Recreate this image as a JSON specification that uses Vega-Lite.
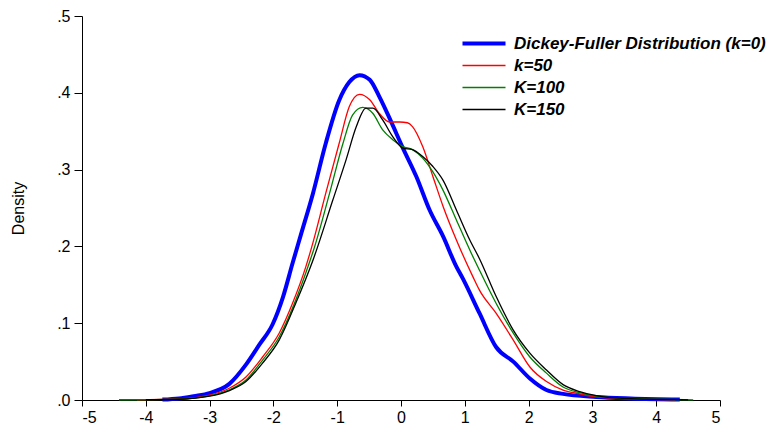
{
  "$schema": "https://vega.github.io/schema/vega-lite/v6.json",
  "width": 638,
  "height": 384,
  "autosize": {"type": "none"},
  "padding": {"left": 82, "top": 16, "right": 48, "bottom": 32},
  "background": "white",
  "config": {
    "view": {"stroke": null},
    "font": "Liberation Sans",
    "axis": {"grid": false, "domainColor": "black", "tickColor": "black", "labelColor": "black", "titleColor": "black", "labelFontSize": 16, "titleFontSize": 16, "titleFontWeight": "normal", "domainWidth": 1, "tickWidth": 1}
  },
  "data": {"values": [
    {"s":"Dickey-Fuller Distribution (k=0)","x":-3.74,"d":0.0005},
    {"s":"Dickey-Fuller Distribution (k=0)","x":-3.48,"d":0.002},
    {"s":"Dickey-Fuller Distribution (k=0)","x":-3.25,"d":0.005},
    {"s":"Dickey-Fuller Distribution (k=0)","x":-3.0,"d":0.009},
    {"s":"Dickey-Fuller Distribution (k=0)","x":-2.69,"d":0.021},
    {"s":"Dickey-Fuller Distribution (k=0)","x":-2.43,"d":0.046},
    {"s":"Dickey-Fuller Distribution (k=0)","x":-2.22,"d":0.072},
    {"s":"Dickey-Fuller Distribution (k=0)","x":-2.01,"d":0.099},
    {"s":"Dickey-Fuller Distribution (k=0)","x":-1.85,"d":0.134},
    {"s":"Dickey-Fuller Distribution (k=0)","x":-1.70,"d":0.178},
    {"s":"Dickey-Fuller Distribution (k=0)","x":-1.57,"d":0.215},
    {"s":"Dickey-Fuller Distribution (k=0)","x":-1.38,"d":0.269},
    {"s":"Dickey-Fuller Distribution (k=0)","x":-1.18,"d":0.334},
    {"s":"Dickey-Fuller Distribution (k=0)","x":-0.97,"d":0.39},
    {"s":"Dickey-Fuller Distribution (k=0)","x":-0.81,"d":0.414},
    {"s":"Dickey-Fuller Distribution (k=0)","x":-0.65,"d":0.423},
    {"s":"Dickey-Fuller Distribution (k=0)","x":-0.49,"d":0.417},
    {"s":"Dickey-Fuller Distribution (k=0)","x":-0.34,"d":0.395},
    {"s":"Dickey-Fuller Distribution (k=0)","x":-0.18,"d":0.367},
    {"s":"Dickey-Fuller Distribution (k=0)","x":0.03,"d":0.328},
    {"s":"Dickey-Fuller Distribution (k=0)","x":0.24,"d":0.291},
    {"s":"Dickey-Fuller Distribution (k=0)","x":0.45,"d":0.247},
    {"s":"Dickey-Fuller Distribution (k=0)","x":0.66,"d":0.213},
    {"s":"Dickey-Fuller Distribution (k=0)","x":0.86,"d":0.175},
    {"s":"Dickey-Fuller Distribution (k=0)","x":0.97,"d":0.158},
    {"s":"Dickey-Fuller Distribution (k=0)","x":1.23,"d":0.113},
    {"s":"Dickey-Fuller Distribution (k=0)","x":1.49,"d":0.069},
    {"s":"Dickey-Fuller Distribution (k=0)","x":1.76,"d":0.05},
    {"s":"Dickey-Fuller Distribution (k=0)","x":2.02,"d":0.028},
    {"s":"Dickey-Fuller Distribution (k=0)","x":2.28,"d":0.013},
    {"s":"Dickey-Fuller Distribution (k=0)","x":2.54,"d":0.008},
    {"s":"Dickey-Fuller Distribution (k=0)","x":3.06,"d":0.004},
    {"s":"Dickey-Fuller Distribution (k=0)","x":3.6,"d":0.002},
    {"s":"Dickey-Fuller Distribution (k=0)","x":4.37,"d":0.0005},
    {"s":"k=50","x":-4.14,"d":0.0003},
    {"s":"k=50","x":-3.5,"d":0.0015},
    {"s":"k=50","x":-3.0,"d":0.0065},
    {"s":"k=50","x":-2.7,"d":0.015},
    {"s":"k=50","x":-2.43,"d":0.030},
    {"s":"k=50","x":-2.17,"d":0.056},
    {"s":"k=50","x":-1.91,"d":0.087},
    {"s":"k=50","x":-1.70,"d":0.126},
    {"s":"k=50","x":-1.49,"d":0.174},
    {"s":"k=50","x":-1.38,"d":0.205},
    {"s":"k=50","x":-1.18,"d":0.269},
    {"s":"k=50","x":-0.97,"d":0.334},
    {"s":"k=50","x":-0.81,"d":0.382},
    {"s":"k=50","x":-0.65,"d":0.398},
    {"s":"k=50","x":-0.49,"d":0.391},
    {"s":"k=50","x":-0.34,"d":0.373},
    {"s":"k=50","x":-0.18,"d":0.362},
    {"s":"k=50","x":-0.02,"d":0.362},
    {"s":"k=50","x":0.10,"d":0.361},
    {"s":"k=50","x":0.18,"d":0.356},
    {"s":"k=50","x":0.34,"d":0.33},
    {"s":"k=50","x":0.5,"d":0.291},
    {"s":"k=50","x":0.66,"d":0.252},
    {"s":"k=50","x":0.87,"d":0.208},
    {"s":"k=50","x":1.13,"d":0.16},
    {"s":"k=50","x":1.23,"d":0.143},
    {"s":"k=50","x":1.49,"d":0.113},
    {"s":"k=50","x":1.76,"d":0.078},
    {"s":"k=50","x":2.02,"d":0.043},
    {"s":"k=50","x":2.28,"d":0.024},
    {"s":"k=50","x":2.54,"d":0.013},
    {"s":"k=50","x":2.8,"d":0.008},
    {"s":"k=50","x":3.06,"d":0.004},
    {"s":"k=50","x":3.6,"d":0.0015},
    {"s":"k=50","x":4.3,"d":0.0003},
    {"s":"K=100","x":-4.42,"d":0.0003},
    {"s":"K=100","x":-3.5,"d":0.0012},
    {"s":"K=100","x":-3.0,"d":0.0055},
    {"s":"K=100","x":-2.7,"d":0.013},
    {"s":"K=100","x":-2.43,"d":0.026},
    {"s":"K=100","x":-2.17,"d":0.052},
    {"s":"K=100","x":-1.91,"d":0.082},
    {"s":"K=100","x":-1.67,"d":0.126},
    {"s":"K=100","x":-1.44,"d":0.178},
    {"s":"K=100","x":-1.36,"d":0.198},
    {"s":"K=100","x":-1.12,"d":0.269},
    {"s":"K=100","x":-0.91,"d":0.334},
    {"s":"K=100","x":-0.76,"d":0.371},
    {"s":"K=100","x":-0.60,"d":0.381},
    {"s":"K=100","x":-0.44,"d":0.373},
    {"s":"K=100","x":-0.29,"d":0.352},
    {"s":"K=100","x":-0.13,"d":0.339},
    {"s":"K=100","x":0.03,"d":0.33},
    {"s":"K=100","x":0.18,"d":0.326},
    {"s":"K=100","x":0.34,"d":0.315},
    {"s":"K=100","x":0.5,"d":0.297},
    {"s":"K=100","x":0.66,"d":0.273},
    {"s":"K=100","x":0.87,"d":0.234},
    {"s":"K=100","x":1.08,"d":0.195},
    {"s":"K=100","x":1.23,"d":0.169},
    {"s":"K=100","x":1.49,"d":0.126},
    {"s":"K=100","x":1.76,"d":0.087},
    {"s":"K=100","x":2.02,"d":0.056},
    {"s":"K=100","x":2.28,"d":0.035},
    {"s":"K=100","x":2.54,"d":0.017},
    {"s":"K=100","x":2.8,"d":0.0095},
    {"s":"K=100","x":3.06,"d":0.005},
    {"s":"K=100","x":3.32,"d":0.003},
    {"s":"K=100","x":4.0,"d":0.001},
    {"s":"K=100","x":4.58,"d":0.0002},
    {"s":"K=150","x":-4.0,"d":0.0003},
    {"s":"K=150","x":-3.5,"d":0.001},
    {"s":"K=150","x":-3.0,"d":0.005},
    {"s":"K=150","x":-2.7,"d":0.012},
    {"s":"K=150","x":-2.43,"d":0.024},
    {"s":"K=150","x":-2.17,"d":0.048},
    {"s":"K=150","x":-1.91,"d":0.078},
    {"s":"K=150","x":-1.65,"d":0.126},
    {"s":"K=150","x":-1.38,"d":0.182},
    {"s":"K=150","x":-1.07,"d":0.26},
    {"s":"K=150","x":-0.86,"d":0.313},
    {"s":"K=150","x":-0.70,"d":0.356},
    {"s":"K=150","x":-0.55,"d":0.38},
    {"s":"K=150","x":-0.44,"d":0.38},
    {"s":"K=150","x":-0.29,"d":0.365},
    {"s":"K=150","x":-0.13,"d":0.343},
    {"s":"K=150","x":0.03,"d":0.328},
    {"s":"K=150","x":0.18,"d":0.326},
    {"s":"K=150","x":0.34,"d":0.317},
    {"s":"K=150","x":0.5,"d":0.304},
    {"s":"K=150","x":0.66,"d":0.286},
    {"s":"K=150","x":0.87,"d":0.247},
    {"s":"K=150","x":1.08,"d":0.208},
    {"s":"K=150","x":1.23,"d":0.184},
    {"s":"K=150","x":1.49,"d":0.135},
    {"s":"K=150","x":1.76,"d":0.091},
    {"s":"K=150","x":2.02,"d":0.061},
    {"s":"K=150","x":2.28,"d":0.039},
    {"s":"K=150","x":2.54,"d":0.02},
    {"s":"K=150","x":2.8,"d":0.011},
    {"s":"K=150","x":3.06,"d":0.0056},
    {"s":"K=150","x":3.5,"d":0.002},
    {"s":"K=150","x":4.5,"d":0.0002}
  ]},
  "mark": {"type": "line", "interpolate": "monotone"},
  "encoding": {
    "x": {"field": "x", "type": "quantitative", "scale": {"domain": [-5, 5], "nice": false, "zero": false},
      "axis": {"title": null, "values": [-5,-4,-3,-2,-1,0,1,2,3,4,5], "labelExpr": "datum.value + ''", "labelPadding": 3, "tickSize": 6}},
    "y": {"field": "d", "type": "quantitative", "scale": {"domain": [0, 0.5], "nice": false},
      "axis": {"title": "Density", "values": [0,0.1,0.2,0.3,0.4,0.5], "labelExpr": "replace(format(datum.value, '.1f'), '0.', '.')", "titlePadding": 30, "labelPadding": 4, "tickSize": 8}},
    "color": {"field": "s", "type": "nominal",
      "scale": {"domain": ["Dickey-Fuller Distribution (k=0)", "k=50", "K=100", "K=150"], "range": ["#0000FF", "#FF0000", "#008000", "#000000"]},
      "legend": {"title": null, "orient": "none", "legendX": 378, "legendY": 19, "symbolType": "stroke", "symbolSize": 1850, "labelFontSize": 17, "labelFontWeight": "bold", "labelFontStyle": "italic", "labelColor": "black", "labelOffset": 6, "rowPadding": 4, "clipHeight": 17, "labelLimit": 400}},
    "strokeWidth": {"field": "s", "type": "nominal",
      "scale": {"type": "ordinal", "domain": ["Dickey-Fuller Distribution (k=0)", "k=50", "K=100", "K=150"], "range": [4, 1.3, 1.3, 1.3]},
      "legend": {"title": null, "orient": "none", "legendX": 378, "legendY": 19, "symbolType": "stroke", "symbolSize": 1850, "labelFontSize": 17, "labelFontWeight": "bold", "labelFontStyle": "italic", "labelColor": "black", "labelOffset": 6, "rowPadding": 4, "clipHeight": 17, "labelLimit": 400}},
    "order": {"field": "s", "sort": "descending"}
  }
}
